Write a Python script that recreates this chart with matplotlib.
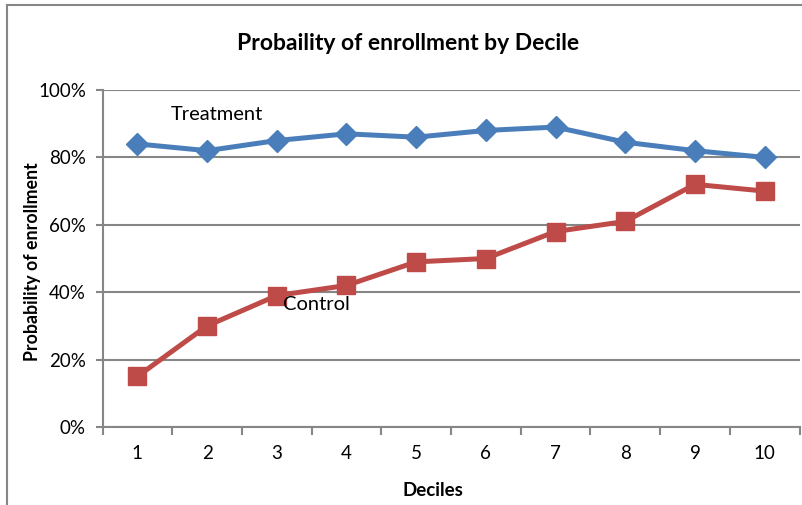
import matplotlib.pyplot as plt
from matplotlib.lines import Line2D
from matplotlib.ticker import FixedLocator, PercentFormatter

deciles = [1, 2, 3, 4, 5, 6, 7, 8, 9, 10]
treatment = [84, 82, 85, 87, 86, 88, 89, 84.5, 82, 80]
control = [15, 30, 39, 42, 49, 50, 58, 61, 72, 70]
y_ticks = [0, 20, 40, 60, 80, 100]

plt.rcParams['font.family'] = ['Lato', 'DejaVu Sans']

W, H = 802, 505
fig = plt.figure(figsize=(W / 100, H / 100), dpi=100)
ax = fig.add_axes([102.5 / W, 1 - 427 / H, (799.5 - 102.5) / W, (427 - 90) / H])

grid_c = '#868686'
blue = '#4A7EBB'
red = '#BE4B48'

ax.plot(deciles, treatment, color=blue, lw=3.6, marker='D', ms=11,
        markeredgecolor=blue, zorder=3, solid_joinstyle='round')
ax.plot(deciles, control, color=red, lw=3.6, marker='s', ms=13.5,
        markeredgecolor=red, zorder=3, solid_joinstyle='round')

ax.set_xlim(0.5, 10.5)
ax.set_ylim(0, 100)
ax.set_yticks(y_ticks)
ax.yaxis.set_major_formatter(PercentFormatter(decimals=0))
ax.set_xticks(deciles)
ax.xaxis.set_minor_locator(FixedLocator([d + 0.5 for d in [0] + deciles]))
ax.tick_params(axis='x', which='major', length=0, pad=13, labelsize=13.5)
ax.tick_params(axis='x', which='minor', length=6, width=1.5, color=grid_c, direction='out')
ax.tick_params(axis='y', length=5, width=1.5, color=grid_c, pad=7, labelsize=13.5)

ax.grid(axis='y', color=grid_c, lw=1.5, zorder=0)
ax.set_axisbelow(True)
for side in ('top', 'right'):
    ax.spines[side].set_visible(False)
for side in ('left', 'bottom'):
    ax.spines[side].set_color(grid_c)
    ax.spines[side].set_linewidth(1.5)

ax.text(217 / W, 1 - 114 / H, 'Treatment', transform=fig.transFigure,
        ha='center', va='center', fontsize=14.5)
ax.text(316 / W, 1 - 305 / H, 'Control', transform=fig.transFigure,
        ha='center', va='center', fontsize=14.5)

fig.text(408 / W, 1 - 43 / H, 'Probaility of enrollment by Decile',
         ha='center', va='center', fontsize=16.5, fontweight='bold')
fig.text(433 / W, 1 - 490 / H, 'Deciles', ha='center', va='center',
         fontsize=13.5, fontweight='bold')
fig.text(33 / W, 1 - 262 / H, 'Probability of enrollment', ha='center',
         va='center', rotation=90, fontsize=12.8, fontweight='bold')

# chart frame (left and top edges)
fig.add_artist(Line2D([6.5 / W, 6.5 / W], [0, 1 - 5 / H], transform=fig.transFigure,
                      color=grid_c, lw=1.5))
fig.add_artist(Line2D([6.5 / W, 1], [1 - 5 / H, 1 - 5 / H], transform=fig.transFigure,
                      color=grid_c, lw=1.5))

fig.savefig('out.png', dpi=100)
